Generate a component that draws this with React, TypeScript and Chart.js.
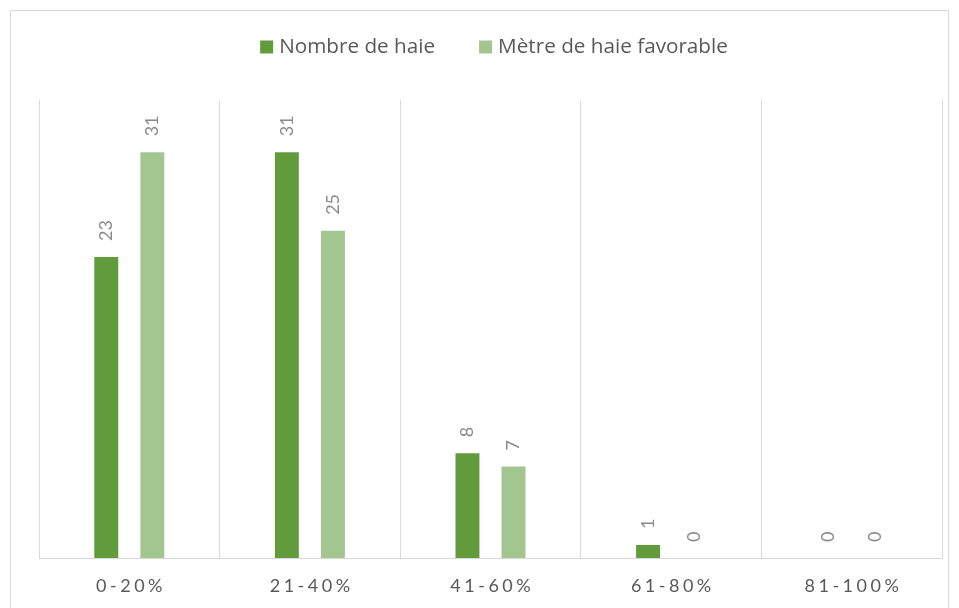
import React, { useEffect, useRef } from 'react';
import { Chart, registerables } from 'chart.js';

Chart.register(...registerables);

const categories = ['0-20%', '21-40%', '41-60%', '61-80%', '81-100%'];
const seriesNames = ['Nombre de haie', 'Mètre de haie favorable'];
const nombreDeHaie = [23, 31, 8, 1, 0];
const metreDeHaieFavorable = [31, 25, 7, 0, 0];
const seriesColors = ['#629b3c', '#a3c690'];
const yMax = 35;

const FONT = 'Lato, "Open Sans", sans-serif';
const LEGEND_FONT = '"Open Sans", Lato, sans-serif';

const framePlugin = {
  id: 'frame',
  beforeDraw(chart: any) {
    const ctx = chart.ctx;
    ctx.save();
    ctx.fillStyle = '#ffffff';
    ctx.fillRect(0, 0, chart.width, chart.height);
    ctx.strokeStyle = '#d9d9d9';
    ctx.lineWidth = 1;
    ctx.strokeRect(10.5, 10.5, 938, 640);
    ctx.restore();
  },
};

const legendPlugin = {
  id: 'customLegend',
  afterDraw(chart: any) {
    const ctx = chart.ctx;
    ctx.save();
    ctx.font = `20.7px ${LEGEND_FONT}`;
    const box = 13;
    const gapBox = 6;
    const gapItems = 44;
    const widths = seriesNames.map((n) => ctx.measureText(n).width);
    const total = widths.reduce((a, w) => a + box + gapBox + w, 0) + gapItems * (seriesNames.length - 1);
    let x = 494 - total / 2;
    const cy = 47;
    seriesNames.forEach((name, i) => {
      ctx.fillStyle = seriesColors[i];
      ctx.fillRect(x, cy - box / 2, box, box);
      x += box + gapBox;
      ctx.fillStyle = '#595959';
      ctx.textAlign = 'left';
      ctx.textBaseline = 'middle';
      ctx.fillText(name, x, cy);
      x += widths[i] + gapItems;
    });
    ctx.restore();
  },
};

const dataLabelPlugin = {
  id: 'dataLabels',
  afterDatasetsDraw(chart: any) {
    const ctx = chart.ctx;
    ctx.save();
    ctx.font = `18px ${FONT}`;
    ctx.fillStyle = '#8a8a8a';
    ctx.textAlign = 'left';
    ctx.textBaseline = 'middle';
    chart.data.datasets.forEach((ds: any, di: number) => {
      const meta = chart.getDatasetMeta(di);
      meta.data.forEach((el: any, i: number) => {
        ctx.save();
        ctx.translate(el.x, el.y - 16);
        ctx.rotate(-Math.PI / 2);
        ctx.fillText(String(ds.data[i]), 0, 0);
        ctx.restore();
      });
    });
    ctx.restore();
  },
};

const xLabelPlugin = {
  id: 'xLabels',
  afterDraw(chart: any) {
    const ctx = chart.ctx;
    const xs = chart.scales.x;
    ctx.save();
    ctx.font = `18px ${FONT}`;
    ctx.fillStyle = '#595959';
    ctx.textAlign = 'center';
    ctx.textBaseline = 'middle';
    const sp = 3.5;
    (ctx as any).letterSpacing = `${sp}px`;
    categories.forEach((c, i) => {
      const x = xs.getPixelForValue(i);
      ctx.fillText(c, x + sp / 2, 586);
    });
    (ctx as any).letterSpacing = '0px';
    ctx.restore();
  },
};

export default function App() {
  const ref = useRef<HTMLCanvasElement>(null);
  useEffect(() => {
    document.body.style.margin = '0';
    document.body.style.overflow = 'hidden';
    const chart = new Chart(ref.current as HTMLCanvasElement, {
      type: 'bar',
      data: {
        labels: categories,
        datasets: [
          {
            label: seriesNames[0],
            data: nombreDeHaie,
            backgroundColor: seriesColors[0],
            categoryPercentage: 0.51,
            barPercentage: 0.52,
          },
          {
            label: seriesNames[1],
            data: metreDeHaieFavorable,
            backgroundColor: seriesColors[1],
            categoryPercentage: 0.51,
            barPercentage: 0.52,
          },
        ],
      },
      options: {
        responsive: false,
        animation: false,
        devicePixelRatio: 1,
        layout: { padding: { left: 39, right: 17, top: 100, bottom: 50 } },
        plugins: {
          legend: { display: false },
          tooltip: { enabled: false },
        },
        scales: {
          x: {
            offset: true,
            grid: { display: true, color: '#d9d9d9', lineWidth: 1, offset: true, drawTicks: false },
            border: { display: true, color: '#d9d9d9', width: 1 },
            ticks: { display: false },
          },
          y: {
            display: false,
            min: 0,
            max: yMax,
          },
        },
      },
      plugins: [framePlugin, legendPlugin, dataLabelPlugin, xLabelPlugin],
    });
    return () => chart.destroy();
  }, []);
  return (
    <div style={{ width: 959, height: 608 }}>
      <canvas ref={ref} width={959} height={608} />
    </div>
  );
}
